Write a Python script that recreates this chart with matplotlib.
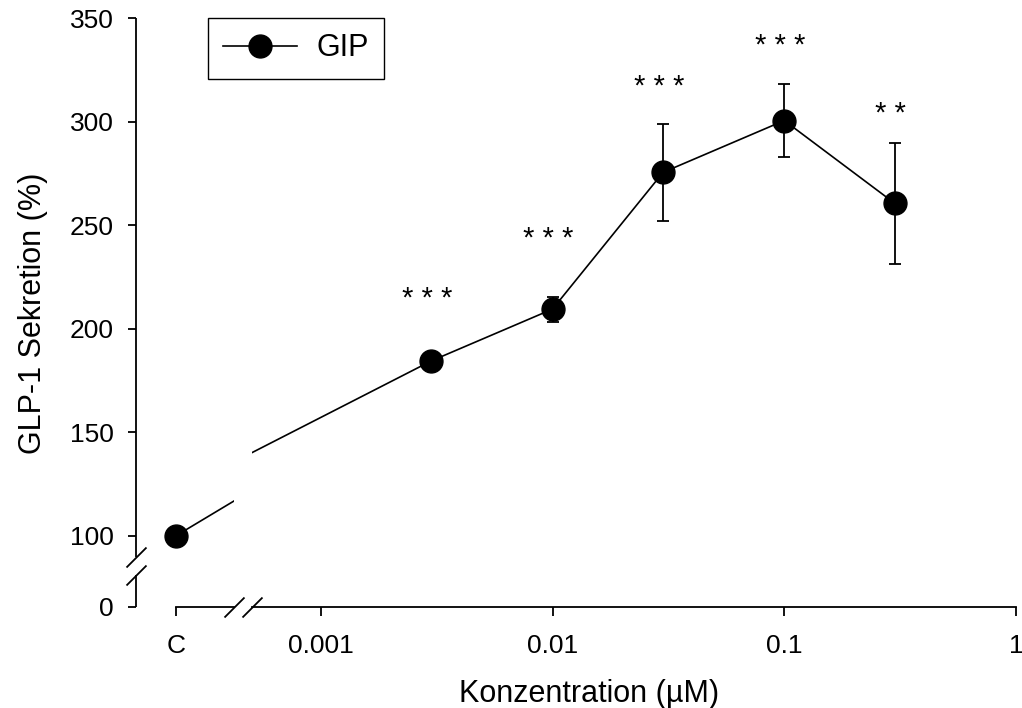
import numpy as np
import matplotlib
matplotlib.use("Agg")
import matplotlib.pyplot as plt
import matplotlib.transforms as mtransforms
from matplotlib.ticker import NullLocator

plt.rcParams['font.family'] = ['Liberation Sans', 'DejaVu Sans']

# GIP dose response: GLP-1 secretion in % of control
conc = [0.003, 0.01, 0.03, 0.1, 0.3]            # µM
secretion = [184.5, 209.5, 275.5, 300.5, 260.5]
sem = [3.0, 6.0, 23.5, 17.5, 29.0]
stars = ['* * *', '* * *', '* * *', '* * *', '* *']
star_y = [210.5, 239.5, 313.0, 332.5, 300.0]

ctrl_label = 'C'
ctrl_value = 100.0
ctrl_sem = 2.0

xticks = [0.001, 0.01, 0.1, 1]
xticklabels = ['0.001', '0.01', '0.1', '1']
yticks = [0, 100, 150, 200, 250, 300, 350]
yticklabels = ['0', '100', '150', '200', '250', '300', '350']

CTRL_X = 1e-4        # control sits left of the x-axis break
SQUEEZE = 0.343      # the 0-100 band is compressed below the y break
LW = 1.3
SLASH = [(-1, -1), (1, 1)]


def y_fwd(y):
    y = np.asarray(y, dtype=float)
    return np.where(y >= 100, y, 100 - (100 - y) * SQUEEZE)


def y_inv(v):
    v = np.asarray(v, dtype=float)
    return np.where(v >= 100, v, 100 - (100 - v) / SQUEEZE)


W, H = 1022, 708
fig = plt.figure(figsize=(W / 100, H / 100), dpi=100)


def px_axes(x0, x1, y_top, y_bot, **kw):
    return fig.add_axes([x0 / W, 1 - y_bot / H, (x1 - x0) / W, (y_bot - y_top) / H], **kw)


# two panels side by side make the broken x axis
ax_pre = px_axes(150, 234, 18, 607)
ax_post = px_axes(252, 1016, 18, 607, sharey=ax_pre)

ax_pre.set_yscale('function', functions=(y_fwd, y_inv))
ax_pre.set_ylim(0, 350)
ax_pre.set_xscale('log')
ax_post.set_xscale('log')
ax_pre.set_xlim(10 ** -4.13, 10 ** -3.705)
ax_post.set_xlim(10 ** -3.297, 1)

x_all = [CTRL_X] + conc
y_all = [ctrl_value] + secretion
e_all = [ctrl_sem] + sem

for ax in (ax_pre, ax_post):
    ax.errorbar(x_all, y_all, yerr=e_all, fmt='none', ecolor='black',
                elinewidth=LW, capsize=4.3, capthick=LW, zorder=2)
    line, = ax.plot(x_all, y_all, color='black', lw=1.2, marker='o', ms=16.5,
                    mfc='black', mec='black', zorder=3, label='GIP')
    ax.spines['top'].set_visible(False)
    ax.spines['right'].set_visible(False)
    ax.spines['bottom'].set_linewidth(LW)
    ax.tick_params(axis='x', which='major', direction='out', length=6.5,
                   width=LW, labelsize=19, pad=13, colors='black')

# significance marks, nudged a little left of each point
star_shift = mtransforms.ScaledTranslation(-0.04, 0, fig.dpi_scale_trans)
for conc_i, lab, sy in zip(conc, stars, star_y):
    ax_post.text(conc_i, sy, lab, ha='center', va='baseline', fontsize=21,
                 transform=ax_post.transData + star_shift)

# x ticks
ax_pre.set_xticks([CTRL_X], [ctrl_label])
ax_post.set_xticks(xticks, xticklabels)
for ax in (ax_pre, ax_post):
    ax.xaxis.set_minor_locator(NullLocator())
ax_pre.spines['bottom'].set_bounds(CTRL_X, ax_pre.get_xlim()[1])

# y axis lives on the left panel, pushed out from the control point
ax_post.spines['left'].set_visible(False)
ax_post.tick_params(axis='y', left=False, labelleft=False)
ax_pre.spines['left'].set_position(('outward', 14 * 0.72))
ax_pre.spines['left'].set_visible(False)
ax_pre.set_yticks(yticks, yticklabels)
ax_pre.yaxis.set_minor_locator(NullLocator())
ax_pre.tick_params(axis='y', direction='out', length=5.8, width=LW,
                   labelsize=19, pad=10)

# broken y axis line with slashes
ytrans = ax_pre.transAxes + mtransforms.ScaledTranslation(-0.14, 0, fig.dpi_scale_trans)
y_break_hi, y_break_lo = 0.0849, 0.0543
ax_pre.plot([0, 0], [y_break_hi, 1], transform=ytrans, color='black', lw=LW,
            clip_on=False, solid_capstyle='butt')
ax_pre.plot([0, 0], [0, y_break_lo], transform=ytrans, color='black', lw=LW,
            clip_on=False, solid_capstyle='butt')
ax_pre.plot([0, 0], [y_break_hi, y_break_lo], transform=ytrans, ls='none',
            marker=SLASH, ms=14.4, mew=LW, color='black', clip_on=False)

# slashes at the x axis break
ax_pre.plot([1], [0], transform=ax_pre.transAxes, ls='none', marker=SLASH,
            ms=14.4, mew=LW, color='black', clip_on=False)
ax_post.plot([0], [0], transform=ax_post.transAxes, ls='none', marker=SLASH,
             ms=14.4, mew=LW, color='black', clip_on=False)

leg = fig.legend(handles=[line], labels=['GIP'], loc='upper left',
                 bbox_to_anchor=(208 / W, 1 - 18 / H), bbox_transform=fig.transFigure,
                 frameon=True, fancybox=False, edgecolor='black', framealpha=1,
                 fontsize=22, handlelength=2.4, handletextpad=0.65,
                 borderpad=0.5, borderaxespad=0, numpoints=1)
leg.get_frame().set_linewidth(1.0)

fig.text(33 / W, 1 - 313 / H, 'GLP-1 Sekretion (%)', rotation=90,
         ha='center', va='center', fontsize=22)
fig.text(589 / W, 1 - 702 / H, 'Konzentration (µM)', ha='center',
         va='baseline', fontsize=22)

fig.savefig('out.png', dpi=100)
